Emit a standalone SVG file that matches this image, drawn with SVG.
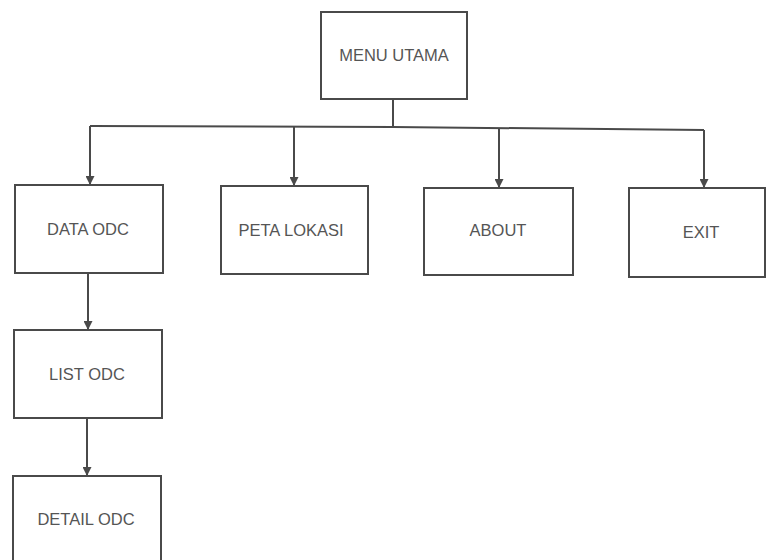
<svg xmlns="http://www.w3.org/2000/svg" width="766" height="560" viewBox="0 0 766 560">
  <defs>
    <marker id="arrow" viewBox="0 0 10 10" refX="10" refY="5" markerWidth="9" markerHeight="9" markerUnits="userSpaceOnUse" orient="auto">
      <path d="M0,0 L10,5 L0,10 z" fill="#4a4a4a"/>
    </marker>
    <style>
      .box { fill: #ffffff; stroke: #4a4a4a; stroke-width: 2; }
      .label { font-family: "Liberation Sans", Arial, sans-serif; font-size: 16.5px; fill: #555555; text-anchor: middle; }
      .wire { fill: none; stroke: #4a4a4a; stroke-width: 2; }
      .arrow { fill: none; stroke: #4a4a4a; stroke-width: 2; marker-end: url(#arrow); }
    </style>
  </defs>
  <rect width="766" height="560" fill="#ffffff"/>

  <!-- tree connectors: trunk, branch bar and arrows into each child -->
  <g id="connectors">
    <path class="wire" d="M393,99 L393,127"/>
    <path class="wire" d="M90,126 L393,127 L704,130"/>
    <path class="arrow" d="M90,126 L90,185"/>
    <path class="arrow" d="M294,127 L294,186"/>
    <path class="arrow" d="M499,128 L499,188"/>
    <path class="arrow" d="M704,130 L704,188"/>
    <path class="arrow" d="M88,273 L88,330"/>
    <path class="arrow" d="M87,418 L87,476"/>
  </g>

  <g id="menu-utama">
    <rect class="box" x="321" y="12" width="146" height="87"/>
    <text class="label" x="394" y="61">MENU UTAMA</text>
  </g>
  <g id="data-odc">
    <rect class="box" x="15" y="185" width="148" height="88"/>
    <text class="label" x="88" y="235">DATA ODC</text>
  </g>
  <g id="peta-lokasi">
    <rect class="box" x="221" y="186" width="147" height="88"/>
    <text class="label" x="291" y="236">PETA LOKASI</text>
  </g>
  <g id="about">
    <rect class="box" x="424" y="188" width="149" height="87"/>
    <text class="label" x="498" y="236">ABOUT</text>
  </g>
  <g id="exit">
    <rect class="box" x="629" y="188" width="136" height="89"/>
    <text class="label" x="701" y="238">EXIT</text>
  </g>
  <g id="list-odc">
    <rect class="box" x="14" y="330" width="148" height="88"/>
    <text class="label" x="87" y="380">LIST ODC</text>
  </g>
  <g id="detail-odc">
    <rect class="box" x="13" y="476" width="148" height="100"/>
    <text class="label" x="86" y="525">DETAIL ODC</text>
  </g>
</svg>
